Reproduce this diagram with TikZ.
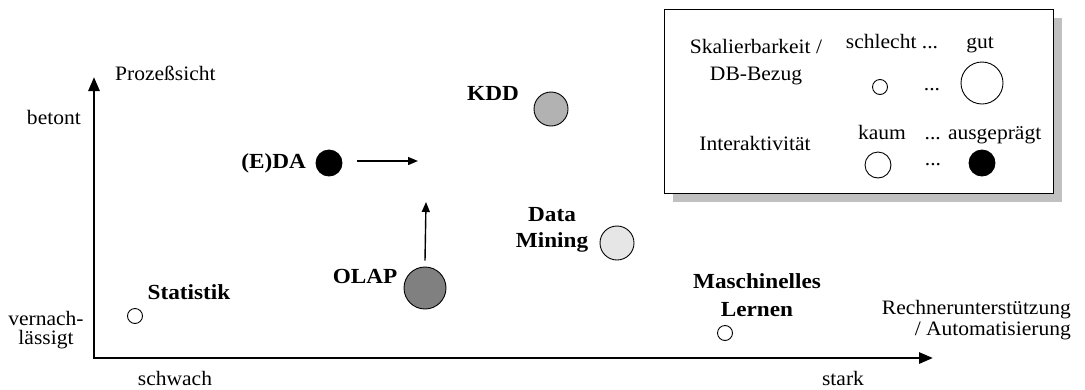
\documentclass[tikz,border=0pt]{standalone}
\usepackage{fontspec}
\setmainfont{Liberation Serif}[FakeStretch=1.05, BoldFeatures={FakeStretch=1.08}]
\usetikzlibrary{arrows.meta}
\definecolor{kddgray}{HTML}{B2B2B2}
\definecolor{olapgray}{HTML}{808080}
\definecolor{dmgray}{HTML}{E6E6E6}
\definecolor{shadowgray}{HTML}{C0C0C0}
\begin{document}
\begin{tikzpicture}[x=1pt,y=-1pt,
  lbl/.style={font=\fontsize{20.5}{21}\selectfont, inner sep=0pt, align=center},
  tag/.style={font=\fontsize{21.5}{26}\selectfont\bfseries, inner sep=0pt, align=center},
  dot/.style={circle, draw=black, line width=0.9pt, inner sep=0pt, minimum size=#1},
  axis/.style={line width=2.8pt, line join=miter,
    {Triangle[length=14pt,width=11pt]}-{Triangle[length=14pt,width=11pt]}},
  move/.style={line width=1.4pt, -{Triangle[length=10pt,width=8pt]}}]
\useasboundingbox (0,0) rectangle (1085,389);

% axes
\coordinate (O) at (94,358);
\coordinate (ytip) at (94,77);
\coordinate (xtip) at (933,358);
\draw[axis] (ytip) -- (O) -- (xtip);

\node[lbl, anchor=west] (ytitle) at (115,73) {Prozeßsicht};
\node[lbl, anchor=east] (hi) at (81,117) {betont};
\node[lbl, font=\fontsize{20.5}{18.5}\selectfont] (lo) at (46,330) {vernach-\\lässigt};
\node[lbl] (weak) at (175,378) {schwach};
\node[lbl] (strong) at (843,378) {stark};
\node[lbl, align=right, anchor=east] (xtitle) at (1071,320) {Rechnerunterstützung\\/ Automatisierung};

% methods
\node[dot=15pt] (stat) at (135,316) {};
\node[tag] (statl) at (189,292) {Statistik};

\node[dot=26pt, fill=black] (eda) at (329,163) {};
\node[tag, anchor=east] (edal) at (306,163) {(E)DA};
\coordinate (edaend) at (418,161);
\draw[move] (357,161) -- (edaend);

\node[dot=34pt, fill=kddgray] (kdd) at (551,109) {};
\node[tag] (kddl) at (493,93) {KDD};

\node[dot=42pt, fill=olapgray] (olap) at (425,288) {};
\node[tag] (olapl) at (365,276) {OLAP};
\coordinate (olapend) at (426,202);
\draw[move] (olap.north) ++(0,-6) -- (olapend);

\node[dot=34pt, fill=dmgray] (dm) at (617,243) {};
\node[tag] (dml) at (552,230) {Data\\Mining};

\node[dot=15pt] (ml) at (725,333) {};
\node[tag, font=\fontsize{21.5}{28}\selectfont\bfseries] (mll) at (757,295) {Maschinelles\\Lernen};

% legend with drop shadow
\fill[shadowgray] (673,18) rectangle (1062,202);
\draw[fill=white, line width=1pt] (664,9) rectangle (1053,193);
\node[lbl, font=\fontsize{20.5}{27}\selectfont] (scal) at (756,62) {Skalierbarkeit /\\DB-Bezug};
\node[lbl, anchor=base] (bad) at (892,48) {schlecht ...};
\node[lbl, anchor=base] (good) at (980,48) {gut};
\node[dot=15pt] (small) at (880,87) {};
\node[lbl] (sdots) at (932,90) {...};
\node[dot=42pt] (big) at (982,83) {};

\node[lbl] (inter) at (755,143) {Interaktivität};
\node[lbl, anchor=base] (little) at (882,139) {kaum};
\node[lbl, anchor=base] (strongi) at (983,139) {... ausgeprägt};
\node[dot=26pt] (white) at (878,165) {};
\node[lbl] (idots) at (933,165) {...};
\node[dot=26pt, fill=black] (black) at (982,163) {};
\end{tikzpicture}
\end{document}
